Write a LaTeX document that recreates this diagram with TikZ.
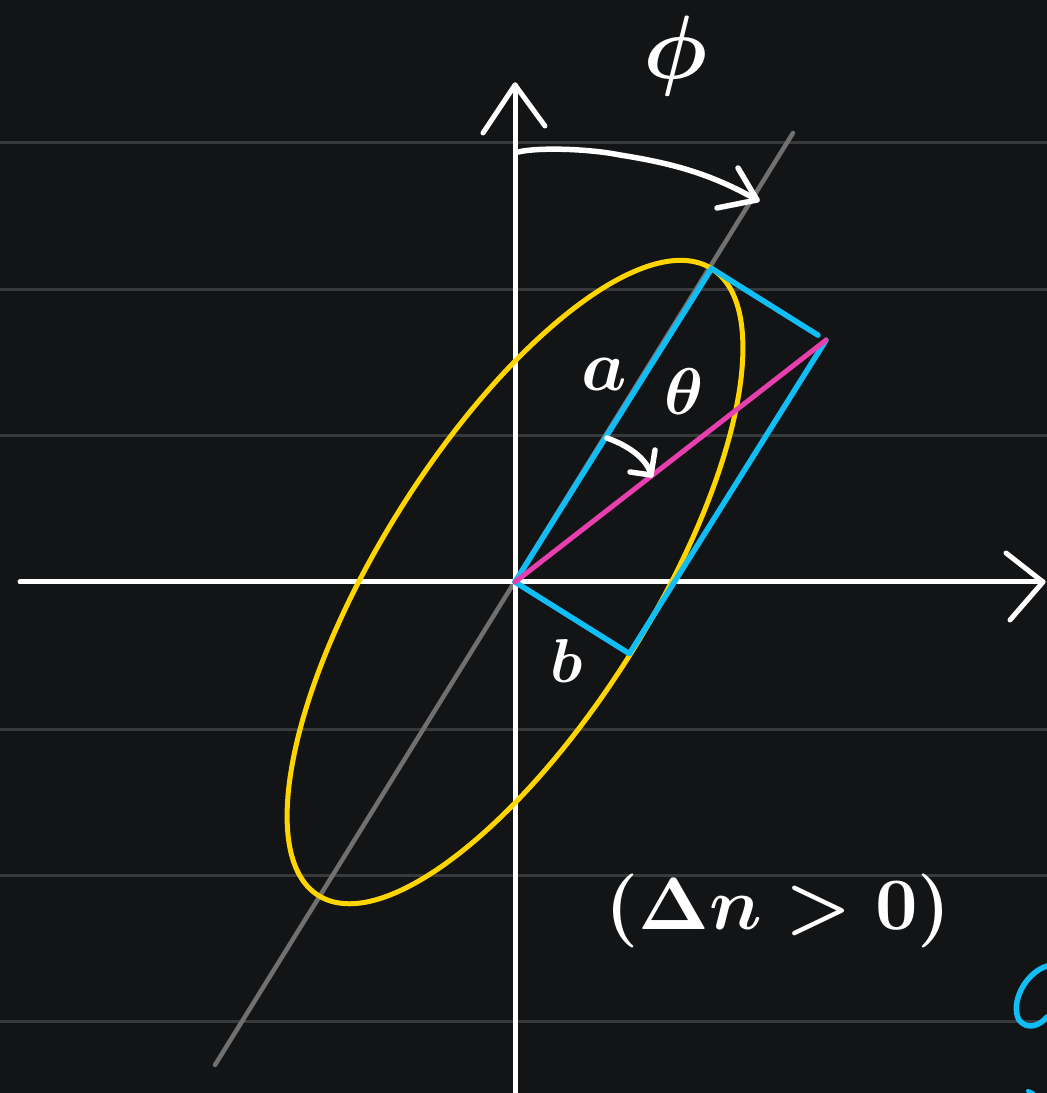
\documentclass[tikz,border=0pt]{standalone}
\usetikzlibrary{calc}
\definecolor{bgc}{HTML}{131416}
\definecolor{gridc}{HTML}{38393B}
\definecolor{grayc}{HTML}{707070}
\definecolor{yelc}{HTML}{FFD500}
\definecolor{bluec}{HTML}{10BEF5}
\definecolor{pinkc}{HTML}{E83FAE}
\begin{document}
\begin{tikzpicture}[x=1pt,y=1pt,
  gridline/.style={draw=gridc, line width=3pt},
  axisline/.style={draw=white, line width=5pt, line cap=round, line join=round},
  handline/.style={draw=white, line width=5.5pt, line cap=round, line join=round},
  majorline/.style={draw=grayc, line width=4.5pt, line cap=round},
  ellipseline/.style={draw=yelc, line width=5pt},
  blueline/.style={draw=bluec, line width=5.5pt, line cap=round, line join=round},
  pinkline/.style={draw=pinkc, line width=5pt, line cap=round},
  txtlabel/.style={text=white, inner sep=0pt, font=\normalsize\boldmath}]
\fill[bgc] (0,0) rectangle (1047,1093);
\useasboundingbox (0,0) rectangle (1047,1093);
% grid lines
\foreach \yy in {950,803,657,363,217,71}
  \draw[gridline] (0,\yy) -- (1047,\yy);
% key points
\coordinate (O) at (515,511);
\coordinate (A) at (711.6,824.5);
\coordinate (B) at (629.4,439.3);
\coordinate (C) at (826,752.8);
\coordinate (G1) at (215,28);
\coordinate (G2) at (793,960);
\coordinate (Ybot) at (515,0);
\coordinate (Ytop) at (515,1008);
\coordinate (Xl) at (20,511);
\coordinate (Xr) at (1043,511);
% major-axis line
\draw[majorline] (G1) -- (G2);
% axes
\draw[axisline] (Ybot) -- (Ytop);
\draw[axisline] (483,960) -- (Ytop) -- (545,967);
\draw[axisline] (Xl) -- (Xr);
\draw[axisline] (1006,540) -- (Xr) -- (1010,473);
% ellipse
\draw[ellipseline, rotate around={57.9:(O)}] (O) ellipse [x radius=370pt, y radius=136pt];
% blue rectangle
\draw[blueline] (O) -- (A);
\draw[blueline] (A) -- ($(A)!0.93!(C)$);
\draw[blueline] (O) -- (B) -- (C);
% pink diagonal
\draw[pinkline] (O) -- (C);
% phi arrow
\coordinate (P1) at (518,941);
\coordinate (P2) at (757,893);
\draw[handline] (P1) .. controls (540,946) and (590,944) .. (620,938) .. controls (670,930) and (710,920) .. (P2);
\draw[handline] (738,925) -- (P2) -- (717,885);
% theta arrow
\coordinate (T1) at (607,655);
\coordinate (T2) at (651,618);
\draw[handline] (T1) .. controls (632,646) and (648,632) .. (T2);
\draw[handline] (655,643) -- (T2) -- (630,621);
% labels
\node[txtlabel, scale=9] (phi) at (676,1037) {$\phi$};
\node[txtlabel, scale=7.2] (la) at (604,718) {$a$};
\node[txtlabel, scale=6.6] (lth) at (684,701) {$\theta$};
\node[txtlabel, scale=6.2] (lb) at (567,432) {$b$};
\node[txtlabel, scale=7.4] (cond) at (778,182) {$(\Delta n>0)$};
% cut-off blue mark at the right edge
\draw[blueline, line width=5.5pt] (1047,127) .. controls (1025,120) and (1010,90) .. (1019,73) .. controls (1028,62) and (1040,68) .. (1047,76);
\draw[blueline, line width=4pt] (1028,2) -- (1033,0);
\end{tikzpicture}
\end{document}
